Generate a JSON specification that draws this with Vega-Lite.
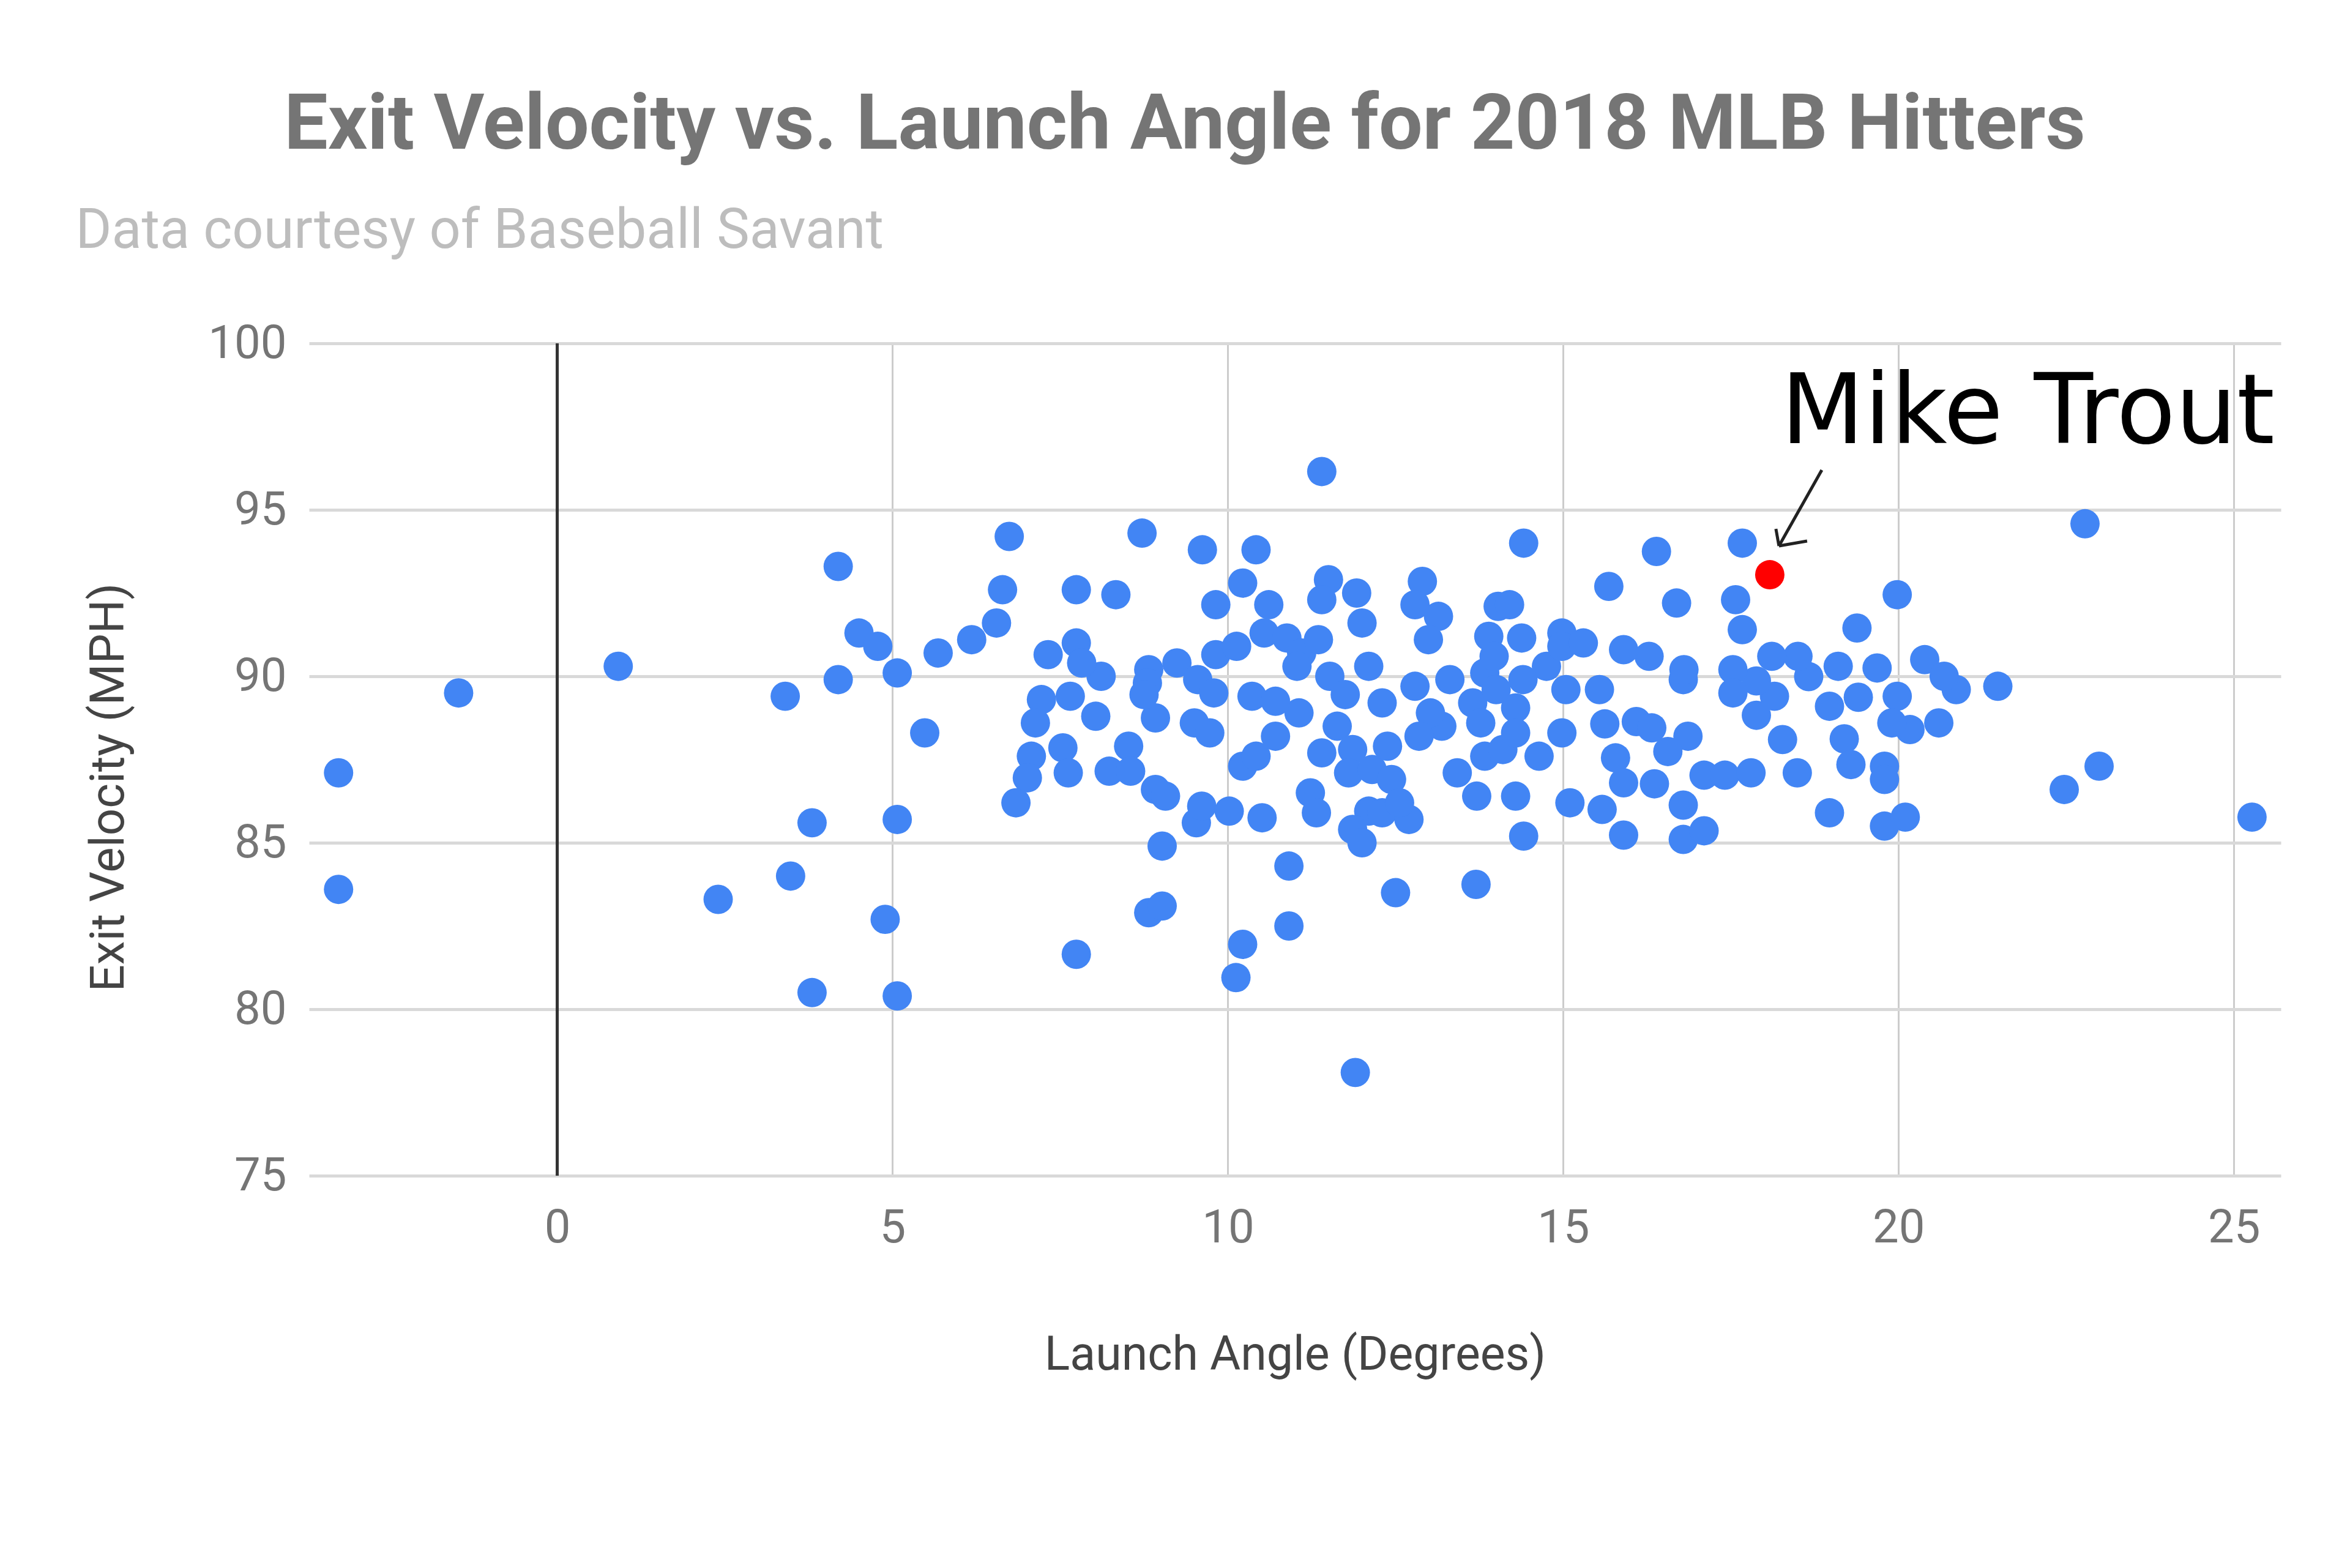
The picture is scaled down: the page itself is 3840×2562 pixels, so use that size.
{
  "$schema": "https://vega.github.io/schema/vega-lite/v6.json",
  "width": 3222,
  "height": 1360,
  "autosize": {"type": "none"},
  "padding": {"left": 505, "top": 561, "right": 113, "bottom": 641},
  "background": "white",
  "config": {"view": {"stroke": null}, "font": "Roboto"},
  "title": {
    "text": "Exit Velocity vs. Launch Angle for 2018 MLB Hitters",
    "anchor": "middle", "frame": "group", "dx": -180, "offset": 62,
    "fontSize": 127, "font": "Roboto", "fontWeight": "bold", "color": "#757575"
  },
  "data": {"values": [
    {"la": -3.26, "ev": 87.1, "group": "Other"}, {"la": -3.26, "ev": 83.6, "group": "Other"},
    {"la": -1.47, "ev": 89.5, "group": "Other"}, {"la": 0.91, "ev": 90.3, "group": "Other"},
    {"la": 2.4, "ev": 83.3, "group": "Other"}, {"la": 3.4, "ev": 89.4, "group": "Other"},
    {"la": 3.48, "ev": 84.0, "group": "Other"}, {"la": 3.8, "ev": 85.6, "group": "Other"},
    {"la": 3.8, "ev": 80.5, "group": "Other"}, {"la": 4.19, "ev": 93.3, "group": "Other"},
    {"la": 4.19, "ev": 89.9, "group": "Other"}, {"la": 4.5, "ev": 91.3, "group": "Other"},
    {"la": 4.78, "ev": 90.9, "group": "Other"}, {"la": 4.89, "ev": 82.7, "group": "Other"},
    {"la": 5.07, "ev": 90.1, "group": "Other"}, {"la": 5.07, "ev": 85.7, "group": "Other"},
    {"la": 5.07, "ev": 80.4, "group": "Other"}, {"la": 5.48, "ev": 88.3, "group": "Other"},
    {"la": 5.68, "ev": 90.7, "group": "Other"}, {"la": 6.18, "ev": 91.1, "group": "Other"},
    {"la": 11.4, "ev": 96.15, "group": "Other"}, {"la": 6.74, "ev": 94.2, "group": "Other"},
    {"la": 8.72, "ev": 94.3, "group": "Other"}, {"la": 9.62, "ev": 93.8, "group": "Other"},
    {"la": 10.42, "ev": 93.8, "group": "Other"}, {"la": 14.41, "ev": 94.0, "group": "Other"},
    {"la": 6.64, "ev": 92.6, "group": "Other"}, {"la": 7.74, "ev": 92.6, "group": "Other"},
    {"la": 8.33, "ev": 92.45, "group": "Other"}, {"la": 10.22, "ev": 92.8, "group": "Other"},
    {"la": 9.82, "ev": 92.15, "group": "Other"}, {"la": 10.61, "ev": 92.15, "group": "Other"},
    {"la": 11.5, "ev": 92.9, "group": "Other"}, {"la": 11.92, "ev": 92.5, "group": "Other"},
    {"la": 12.0, "ev": 91.6, "group": "Other"}, {"la": 11.4, "ev": 92.3, "group": "Other"},
    {"la": 12.9, "ev": 92.85, "group": "Other"}, {"la": 12.79, "ev": 92.15, "group": "Other"},
    {"la": 13.14, "ev": 91.8, "group": "Other"}, {"la": 12.99, "ev": 91.1, "group": "Other"},
    {"la": 14.03, "ev": 92.1, "group": "Other"}, {"la": 14.2, "ev": 92.15, "group": "Other"},
    {"la": 13.89, "ev": 91.2, "group": "Other"}, {"la": 14.38, "ev": 91.15, "group": "Other"},
    {"la": 14.98, "ev": 91.3, "group": "Other"}, {"la": 6.55, "ev": 91.6, "group": "Other"},
    {"la": 7.32, "ev": 90.65, "group": "Other"}, {"la": 7.74, "ev": 91.0, "group": "Other"},
    {"la": 8.11, "ev": 90.0, "group": "Other"}, {"la": 7.82, "ev": 90.4, "group": "Other"},
    {"la": 8.82, "ev": 90.2, "group": "Other"}, {"la": 9.24, "ev": 90.4, "group": "Other"},
    {"la": 9.55, "ev": 89.9, "group": "Other"}, {"la": 9.79, "ev": 89.5, "group": "Other"},
    {"la": 9.82, "ev": 90.65, "group": "Other"}, {"la": 10.13, "ev": 90.9, "group": "Other"},
    {"la": 10.54, "ev": 91.3, "group": "Other"}, {"la": 10.88, "ev": 91.15, "group": "Other"},
    {"la": 11.1, "ev": 90.7, "group": "Other"}, {"la": 11.35, "ev": 91.1, "group": "Other"},
    {"la": 12.1, "ev": 90.3, "group": "Other"}, {"la": 11.52, "ev": 90.0, "group": "Other"},
    {"la": 11.75, "ev": 89.45, "group": "Other"}, {"la": 11.03, "ev": 90.3, "group": "Other"},
    {"la": 11.06, "ev": 88.9, "group": "Other"}, {"la": 10.36, "ev": 89.4, "group": "Other"},
    {"la": 10.71, "ev": 89.25, "group": "Other"}, {"la": 12.3, "ev": 89.2, "group": "Other"},
    {"la": 12.79, "ev": 89.7, "group": "Other"}, {"la": 13.31, "ev": 89.9, "group": "Other"},
    {"la": 13.83, "ev": 90.1, "group": "Other"}, {"la": 13.97, "ev": 90.6, "group": "Other"},
    {"la": 14.75, "ev": 90.3, "group": "Other"}, {"la": 15.04, "ev": 89.6, "group": "Other"},
    {"la": 14.4, "ev": 89.9, "group": "Other"}, {"la": 14.29, "ev": 89.05, "group": "Other"},
    {"la": 13.65, "ev": 89.2, "group": "Other"}, {"la": 13.19, "ev": 88.5, "group": "Other"},
    {"la": 13.77, "ev": 88.6, "group": "Other"}, {"la": 13.02, "ev": 88.9, "group": "Other"},
    {"la": 7.22, "ev": 89.3, "group": "Other"}, {"la": 7.13, "ev": 88.6, "group": "Other"},
    {"la": 7.65, "ev": 89.4, "group": "Other"}, {"la": 8.03, "ev": 88.8, "group": "Other"},
    {"la": 7.54, "ev": 87.85, "group": "Other"}, {"la": 7.07, "ev": 87.6, "group": "Other"},
    {"la": 7.01, "ev": 86.95, "group": "Other"}, {"la": 6.84, "ev": 86.2, "group": "Other"},
    {"la": 7.62, "ev": 87.1, "group": "Other"}, {"la": 8.52, "ev": 87.9, "group": "Other"},
    {"la": 8.23, "ev": 87.15, "group": "Other"}, {"la": 8.55, "ev": 87.15, "group": "Other"},
    {"la": 8.8, "ev": 89.8, "group": "Other"}, {"la": 8.92, "ev": 88.75, "group": "Other"},
    {"la": 8.75, "ev": 89.45, "group": "Other"}, {"la": 9.5, "ev": 88.6, "group": "Other"},
    {"la": 9.73, "ev": 88.3, "group": "Other"}, {"la": 8.92, "ev": 86.6, "group": "Other"},
    {"la": 9.07, "ev": 86.4, "group": "Other"}, {"la": 9.53, "ev": 85.6, "group": "Other"},
    {"la": 9.61, "ev": 86.1, "group": "Other"}, {"la": 10.02, "ev": 85.95, "group": "Other"},
    {"la": 10.51, "ev": 85.75, "group": "Other"}, {"la": 10.22, "ev": 87.3, "group": "Other"},
    {"la": 10.42, "ev": 87.6, "group": "Other"}, {"la": 10.71, "ev": 88.2, "group": "Other"},
    {"la": 11.23, "ev": 86.5, "group": "Other"}, {"la": 11.32, "ev": 85.9, "group": "Other"},
    {"la": 11.4, "ev": 87.7, "group": "Other"}, {"la": 11.63, "ev": 88.5, "group": "Other"},
    {"la": 11.86, "ev": 87.8, "group": "Other"}, {"la": 11.8, "ev": 87.1, "group": "Other"},
    {"la": 12.15, "ev": 87.2, "group": "Other"}, {"la": 12.44, "ev": 86.9, "group": "Other"},
    {"la": 12.1, "ev": 85.95, "group": "Other"}, {"la": 11.86, "ev": 85.4, "group": "Other"},
    {"la": 12.0, "ev": 85.0, "group": "Other"}, {"la": 12.3, "ev": 85.9, "group": "Other"},
    {"la": 12.7, "ev": 85.7, "group": "Other"}, {"la": 12.56, "ev": 86.2, "group": "Other"},
    {"la": 12.38, "ev": 87.9, "group": "Other"}, {"la": 12.85, "ev": 88.2, "group": "Other"},
    {"la": 13.42, "ev": 87.1, "group": "Other"}, {"la": 13.71, "ev": 86.4, "group": "Other"},
    {"la": 13.83, "ev": 87.6, "group": "Other"}, {"la": 14.29, "ev": 86.4, "group": "Other"},
    {"la": 14.41, "ev": 85.2, "group": "Other"}, {"la": 14.64, "ev": 87.6, "group": "Other"},
    {"la": 14.1, "ev": 87.8, "group": "Other"}, {"la": 14.29, "ev": 88.3, "group": "Other"},
    {"la": 14.0, "ev": 89.6, "group": "Other"}, {"la": 14.98, "ev": 88.3, "group": "Other"},
    {"la": 15.1, "ev": 86.2, "group": "Other"}, {"la": 14.98, "ev": 90.9, "group": "Other"},
    {"la": 9.02, "ev": 84.9, "group": "Other"}, {"la": 10.91, "ev": 84.3, "group": "Other"},
    {"la": 12.5, "ev": 83.5, "group": "Other"}, {"la": 13.7, "ev": 83.75, "group": "Other"},
    {"la": 8.82, "ev": 82.9, "group": "Other"}, {"la": 9.02, "ev": 83.1, "group": "Other"},
    {"la": 7.74, "ev": 81.65, "group": "Other"}, {"la": 10.91, "ev": 82.5, "group": "Other"},
    {"la": 10.22, "ev": 81.95, "group": "Other"}, {"la": 10.12, "ev": 80.95, "group": "Other"},
    {"la": 11.9, "ev": 78.1, "group": "Other"},
    {"la": 17.67, "ev": 94.0, "group": "Other"}, {"la": 16.39, "ev": 93.75, "group": "Other"},
    {"la": 22.78, "ev": 94.58, "group": "Other"}, {"la": 15.68, "ev": 92.7, "group": "Other"},
    {"la": 16.69, "ev": 92.2, "group": "Other"}, {"la": 17.57, "ev": 92.3, "group": "Other"},
    {"la": 17.67, "ev": 91.4, "group": "Other"}, {"la": 19.38, "ev": 91.45, "group": "Other"},
    {"la": 19.98, "ev": 92.45, "group": "Other"}, {"la": 20.39, "ev": 90.5, "group": "Other"},
    {"la": 21.48, "ev": 89.7, "group": "Other"}, {"la": 20.86, "ev": 89.6, "group": "Other"},
    {"la": 20.68, "ev": 90.0, "group": "Other"}, {"la": 19.98, "ev": 89.4, "group": "Other"},
    {"la": 19.68, "ev": 90.25, "group": "Other"}, {"la": 19.4, "ev": 89.37, "group": "Other"},
    {"la": 19.1, "ev": 90.3, "group": "Other"}, {"la": 18.97, "ev": 89.1, "group": "Other"},
    {"la": 18.66, "ev": 89.99, "group": "Other"}, {"la": 18.5, "ev": 90.6, "group": "Other"},
    {"la": 18.11, "ev": 90.6, "group": "Other"}, {"la": 18.15, "ev": 89.4, "group": "Other"},
    {"la": 17.88, "ev": 88.83, "group": "Other"}, {"la": 17.88, "ev": 89.86, "group": "Other"},
    {"la": 17.53, "ev": 90.2, "group": "Other"}, {"la": 17.53, "ev": 89.5, "group": "Other"},
    {"la": 18.27, "ev": 88.1, "group": "Other"}, {"la": 19.19, "ev": 88.12, "group": "Other"},
    {"la": 19.29, "ev": 87.35, "group": "Other"}, {"la": 19.79, "ev": 87.3, "group": "Other"},
    {"la": 19.79, "ev": 86.9, "group": "Other"}, {"la": 20.17, "ev": 88.4, "group": "Other"},
    {"la": 19.9, "ev": 88.6, "group": "Other"}, {"la": 20.6, "ev": 88.6, "group": "Other"},
    {"la": 18.49, "ev": 87.1, "group": "Other"}, {"la": 18.97, "ev": 85.9, "group": "Other"},
    {"la": 19.79, "ev": 85.5, "group": "Other"}, {"la": 20.1, "ev": 85.77, "group": "Other"},
    {"la": 22.47, "ev": 86.6, "group": "Other"}, {"la": 22.99, "ev": 87.3, "group": "Other"},
    {"la": 25.27, "ev": 85.77, "group": "Other"}, {"la": 16.79, "ev": 89.9, "group": "Other"},
    {"la": 16.8, "ev": 90.2, "group": "Other"}, {"la": 16.28, "ev": 90.6, "group": "Other"},
    {"la": 15.9, "ev": 90.8, "group": "Other"}, {"la": 15.3, "ev": 91.0, "group": "Other"},
    {"la": 15.54, "ev": 89.6, "group": "Other"}, {"la": 15.62, "ev": 88.57, "group": "Other"},
    {"la": 16.09, "ev": 88.64, "group": "Other"}, {"la": 16.32, "ev": 88.45, "group": "Other"},
    {"la": 16.86, "ev": 88.2, "group": "Other"}, {"la": 16.56, "ev": 87.74, "group": "Other"},
    {"la": 15.78, "ev": 87.55, "group": "Other"}, {"la": 15.9, "ev": 86.8, "group": "Other"},
    {"la": 16.36, "ev": 86.77, "group": "Other"}, {"la": 15.58, "ev": 86.0, "group": "Other"},
    {"la": 15.9, "ev": 85.23, "group": "Other"}, {"la": 16.79, "ev": 85.1, "group": "Other"},
    {"la": 17.1, "ev": 85.36, "group": "Other"}, {"la": 16.79, "ev": 86.13, "group": "Other"},
    {"la": 17.1, "ev": 87.03, "group": "Other"}, {"la": 17.41, "ev": 87.03, "group": "Other"},
    {"la": 17.8, "ev": 87.1, "group": "Other"},
    {"la": 18.08, "ev": 93.05, "group": "Mike Trout"}
  ]},
  "resolve": {"axis": {"x": "independent", "y": "independent"}},
  "layer": [
    {
      "mark": {"type": "rule", "color": "#333333", "strokeWidth": 4},
      "encoding": {
        "x": {"datum": 0, "type": "quantitative", "axis": null, "scale": {"domain": [-3.7, 25.7], "nice": false, "zero": false}}
      }
    },
    {
      "mark": {"type": "circle", "size": 2300, "opacity": 1},
      "encoding": {
        "x": {
          "field": "la", "type": "quantitative",
          "scale": {"domain": [-3.7, 25.7], "nice": false, "zero": false},
          "axis": {
            "title": "Launch Angle (Degrees)", "values": [0, 5, 10, 15, 20, 25],
            "grid": true, "gridColor": "#cccccc", "gridWidth": 3,
            "domain": false, "ticks": false,
            "labelFontSize": 76, "labelColor": "#757575", "labelPadding": 48, "labelFont": "Roboto",
            "titleFontSize": 77, "titleColor": "#444444", "titleFontWeight": "normal", "titleFont": "Roboto", "titlePadding": 132
          }
        },
        "y": {
          "field": "ev", "type": "quantitative",
          "scale": {"domain": [75, 100], "nice": false, "zero": false},
          "axis": {
            "title": "Exit Velocity (MPH)", "values": [75, 80, 85, 90, 95, 100],
            "grid": true, "gridColor": "#d9d9d9", "gridWidth": 5,
            "domain": false, "ticks": false,
            "labelFontSize": 76, "labelColor": "#757575", "labelPadding": 37, "labelFont": "Roboto",
            "titleFontSize": 78, "titleColor": "#444444", "titleFontWeight": "normal", "titleFont": "Roboto", "titlePadding": 122,
            "titleY": 725
          }
        },
        "color": {
          "field": "group", "type": "nominal",
          "scale": {"domain": ["Other", "Mike Trout"], "range": ["#4285F4", "#FF0000"]},
          "legend": null
        },
        "order": {"field": "group", "sort": "descending"}
      }
    },
    {
      "transform": [{"filter": "datum.group === 'Mike Trout'"}],
      "mark": {"type": "text", "align": "left", "baseline": "alphabetic", "dx": 18, "dy": -215, "fontSize": 158, "font": "DejaVu Sans", "color": "#000000"},
      "encoding": {
        "x": {
          "field": "la", "type": "quantitative",
          "scale": {"domain": [-3.7, 25.7], "nice": false, "zero": false},
          "axis": {
            "orient": "top", "title": "Data courtesy of Baseball Savant",
            "labels": false, "ticks": false, "domain": false, "grid": false,
            "titleX": -382, "titleY": -184, "titleAlign": "left", "titleAnchor": "start", "titleBaseline": "middle",
            "titleFontSize": 90, "titleFont": "Roboto", "titleFontWeight": "normal", "titleColor": "#bdbdbd"
          }
        },
        "y": {"field": "ev", "type": "quantitative", "scale": {"domain": [75, 100], "nice": false, "zero": false}, "axis": null},
        "text": {"field": "group"}
      }
    },
    {
      "transform": [{"filter": "datum.group === 'Mike Trout'"}],
      "mark": {"type": "rule", "color": "#222222", "strokeWidth": 5, "xOffset": 85, "yOffset": -171, "x2Offset": 15, "y2Offset": -47},
      "encoding": {
        "x": {"field": "la", "type": "quantitative", "scale": {"domain": [-3.7, 25.7], "nice": false, "zero": false}, "axis": null},
        "x2": {"field": "la"},
        "y": {"field": "ev", "type": "quantitative", "scale": {"domain": [75, 100], "nice": false, "zero": false}, "axis": null},
        "y2": {"field": "ev"}
      }
    },
    {
      "transform": [{"filter": "datum.group === 'Mike Trout'"}],
      "mark": {"type": "rule", "color": "#222222", "strokeWidth": 5, "xOffset": 15, "yOffset": -47, "x2Offset": 61, "y2Offset": -55},
      "encoding": {
        "x": {"field": "la", "type": "quantitative", "scale": {"domain": [-3.7, 25.7], "nice": false, "zero": false}, "axis": null},
        "x2": {"field": "la"},
        "y": {"field": "ev", "type": "quantitative", "scale": {"domain": [75, 100], "nice": false, "zero": false}, "axis": null},
        "y2": {"field": "ev"}
      }
    },
    {
      "transform": [{"filter": "datum.group === 'Mike Trout'"}],
      "mark": {"type": "rule", "color": "#222222", "strokeWidth": 5, "xOffset": 15, "yOffset": -47, "x2Offset": 10, "y2Offset": -75},
      "encoding": {
        "x": {"field": "la", "type": "quantitative", "scale": {"domain": [-3.7, 25.7], "nice": false, "zero": false}, "axis": null},
        "x2": {"field": "la"},
        "y": {"field": "ev", "type": "quantitative", "scale": {"domain": [75, 100], "nice": false, "zero": false}, "axis": null},
        "y2": {"field": "ev"}
      }
    }
  ]
}
